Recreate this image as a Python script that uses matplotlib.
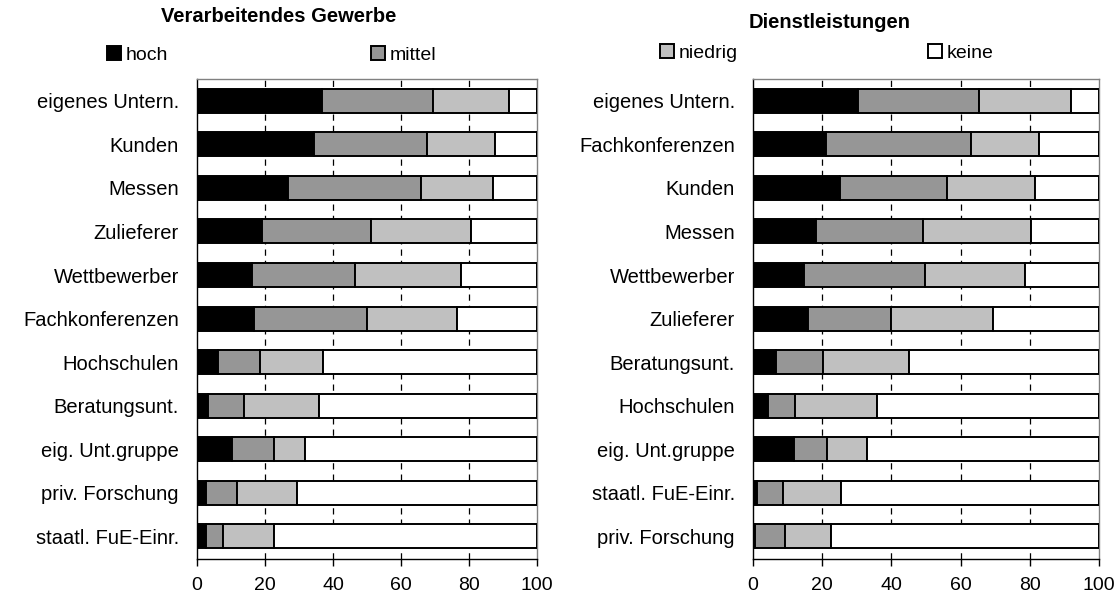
import matplotlib
matplotlib.use("Agg")
import matplotlib.pyplot as plt
import numpy as np

plt.rcParams['font.family'] = ['Liberation Sans', 'DejaVu Sans']

levels = ["hoch", "mittel", "niedrig", "keine"]
level_colors = ["#000000", "#969696", "#c0c0c0", "#ffffff"]

# Verarbeitendes Gewerbe
vg_title = "Verarbeitendes Gewerbe"
vg_cats = ["eigenes Untern.", "Kunden", "Messen", "Zulieferer", "Wettbewerber",
           "Fachkonferenzen", "Hochschulen", "Beratungsunt.", "eig. Unt.gruppe",
           "priv. Forschung", "staatl. FuE-Einr."]
vg_hoch = [36.9, 34.5, 26.8, 19.1, 16.1, 16.7, 6.3, 3.1, 10.4, 2.6, 2.6]
vg_mittel = [32.6, 33.2, 39.1, 32.2, 30.5, 33.3, 12.1, 10.6, 12.1, 9.3, 5.1]
vg_niedrig = [22.2, 19.9, 21.1, 29.2, 31.1, 26.5, 18.8, 22.2, 9.4, 17.6, 14.9]
vg_keine = [8.3, 12.4, 13.0, 19.5, 22.3, 23.5, 62.8, 64.1, 68.1, 70.5, 77.4]

# Dienstleistungen
dl_title = "Dienstleistungen"
dl_cats = ["eigenes Untern.", "Fachkonferenzen", "Kunden", "Messen", "Wettbewerber",
           "Zulieferer", "Beratungsunt.", "Hochschulen", "eig. Unt.gruppe",
           "staatl. FuE-Einr.", "priv. Forschung"]
dl_hoch = [30.3, 21.0, 25.1, 18.1, 14.7, 15.8, 6.6, 4.2, 11.8, 1.3, 0.6]
dl_mittel = [35.0, 42.0, 31.0, 31.0, 35.0, 24.1, 13.6, 7.9, 9.6, 7.4, 8.6]
dl_niedrig = [26.6, 19.7, 25.3, 31.2, 28.8, 29.5, 24.8, 23.7, 11.5, 16.7, 13.3]
dl_keine = [8.1, 17.3, 18.6, 19.7, 21.5, 30.6, 55.0, 64.2, 67.1, 74.6, 77.5]

xticks = [0, 20, 40, 60, 80, 100]


def draw_panel(ax, cats, series):
    y = np.arange(len(cats))
    left = np.zeros(len(cats))
    bars = []
    for name, color, vals in zip(levels, level_colors, series):
        vals = np.array(vals)
        b = ax.barh(y, vals, left=left, height=0.55, color=color,
                    edgecolor="black", linewidth=1.4, label=name, zorder=3)
        bars.append(b)
        left = left + vals
    ax.set_xlim(0, 100)
    ax.set_ylim(len(cats) - 0.48, -0.5)
    ax.set_yticks(y)
    ax.set_yticklabels(cats, fontsize=14.5)
    ax.set_xticks(xticks)
    ax.set_xticklabels([str(t) for t in xticks], fontsize=14)
    ax.tick_params(axis="y", length=0, pad=13)
    ax.tick_params(axis="x", length=5, width=1, color="black", pad=8, direction="out")
    for x in xticks[1:-1]:
        ax.axvline(x, color="black", linewidth=0.9, linestyle=(0, (5, 4)), zorder=1)
    ax.spines["top"].set_color("#808080")
    ax.spines["right"].set_color("#808080")
    ax.spines["left"].set_color("black")
    ax.spines["bottom"].set_color("black")
    for s in ax.spines.values():
        s.set_linewidth(1)
    return bars


fig = plt.figure(figsize=(11.2, 6.02), dpi=100)
ax1 = fig.add_axes([197 / 1120, 1 - 559 / 602, 340 / 1120, 480 / 602])
ax2 = fig.add_axes([753 / 1120, 1 - 559 / 602, 346 / 1120, 480 / 602])

bars = draw_panel(ax1, vg_cats, [vg_hoch, vg_mittel, vg_niedrig, vg_keine])
draw_panel(ax2, dl_cats, [dl_hoch, dl_mittel, dl_niedrig, dl_keine])

fig.text(279 / 1120, 1 - 17 / 602, vg_title, ha="center", va="center",
         fontsize=14.5, fontweight="bold")
fig.text(830 / 1120, 1 - 22 / 602, dl_title, ha="center", va="center",
         fontsize=14.5, fontweight="bold")

legend_x = [107, 371, 660, 928]
legend_y = [55, 55, 53, 53]
for b, name, lx, ly in zip(bars, levels, legend_x, legend_y):
    fig.legend([b], [name], loc="center left",
               bbox_to_anchor=(lx / 1120, 1 - ly / 602), frameon=False,
               fontsize=14, handlelength=0.7, handleheight=0.7,
               handletextpad=0.25, borderpad=0, borderaxespad=0)

fig.savefig("out.png", dpi=100)
